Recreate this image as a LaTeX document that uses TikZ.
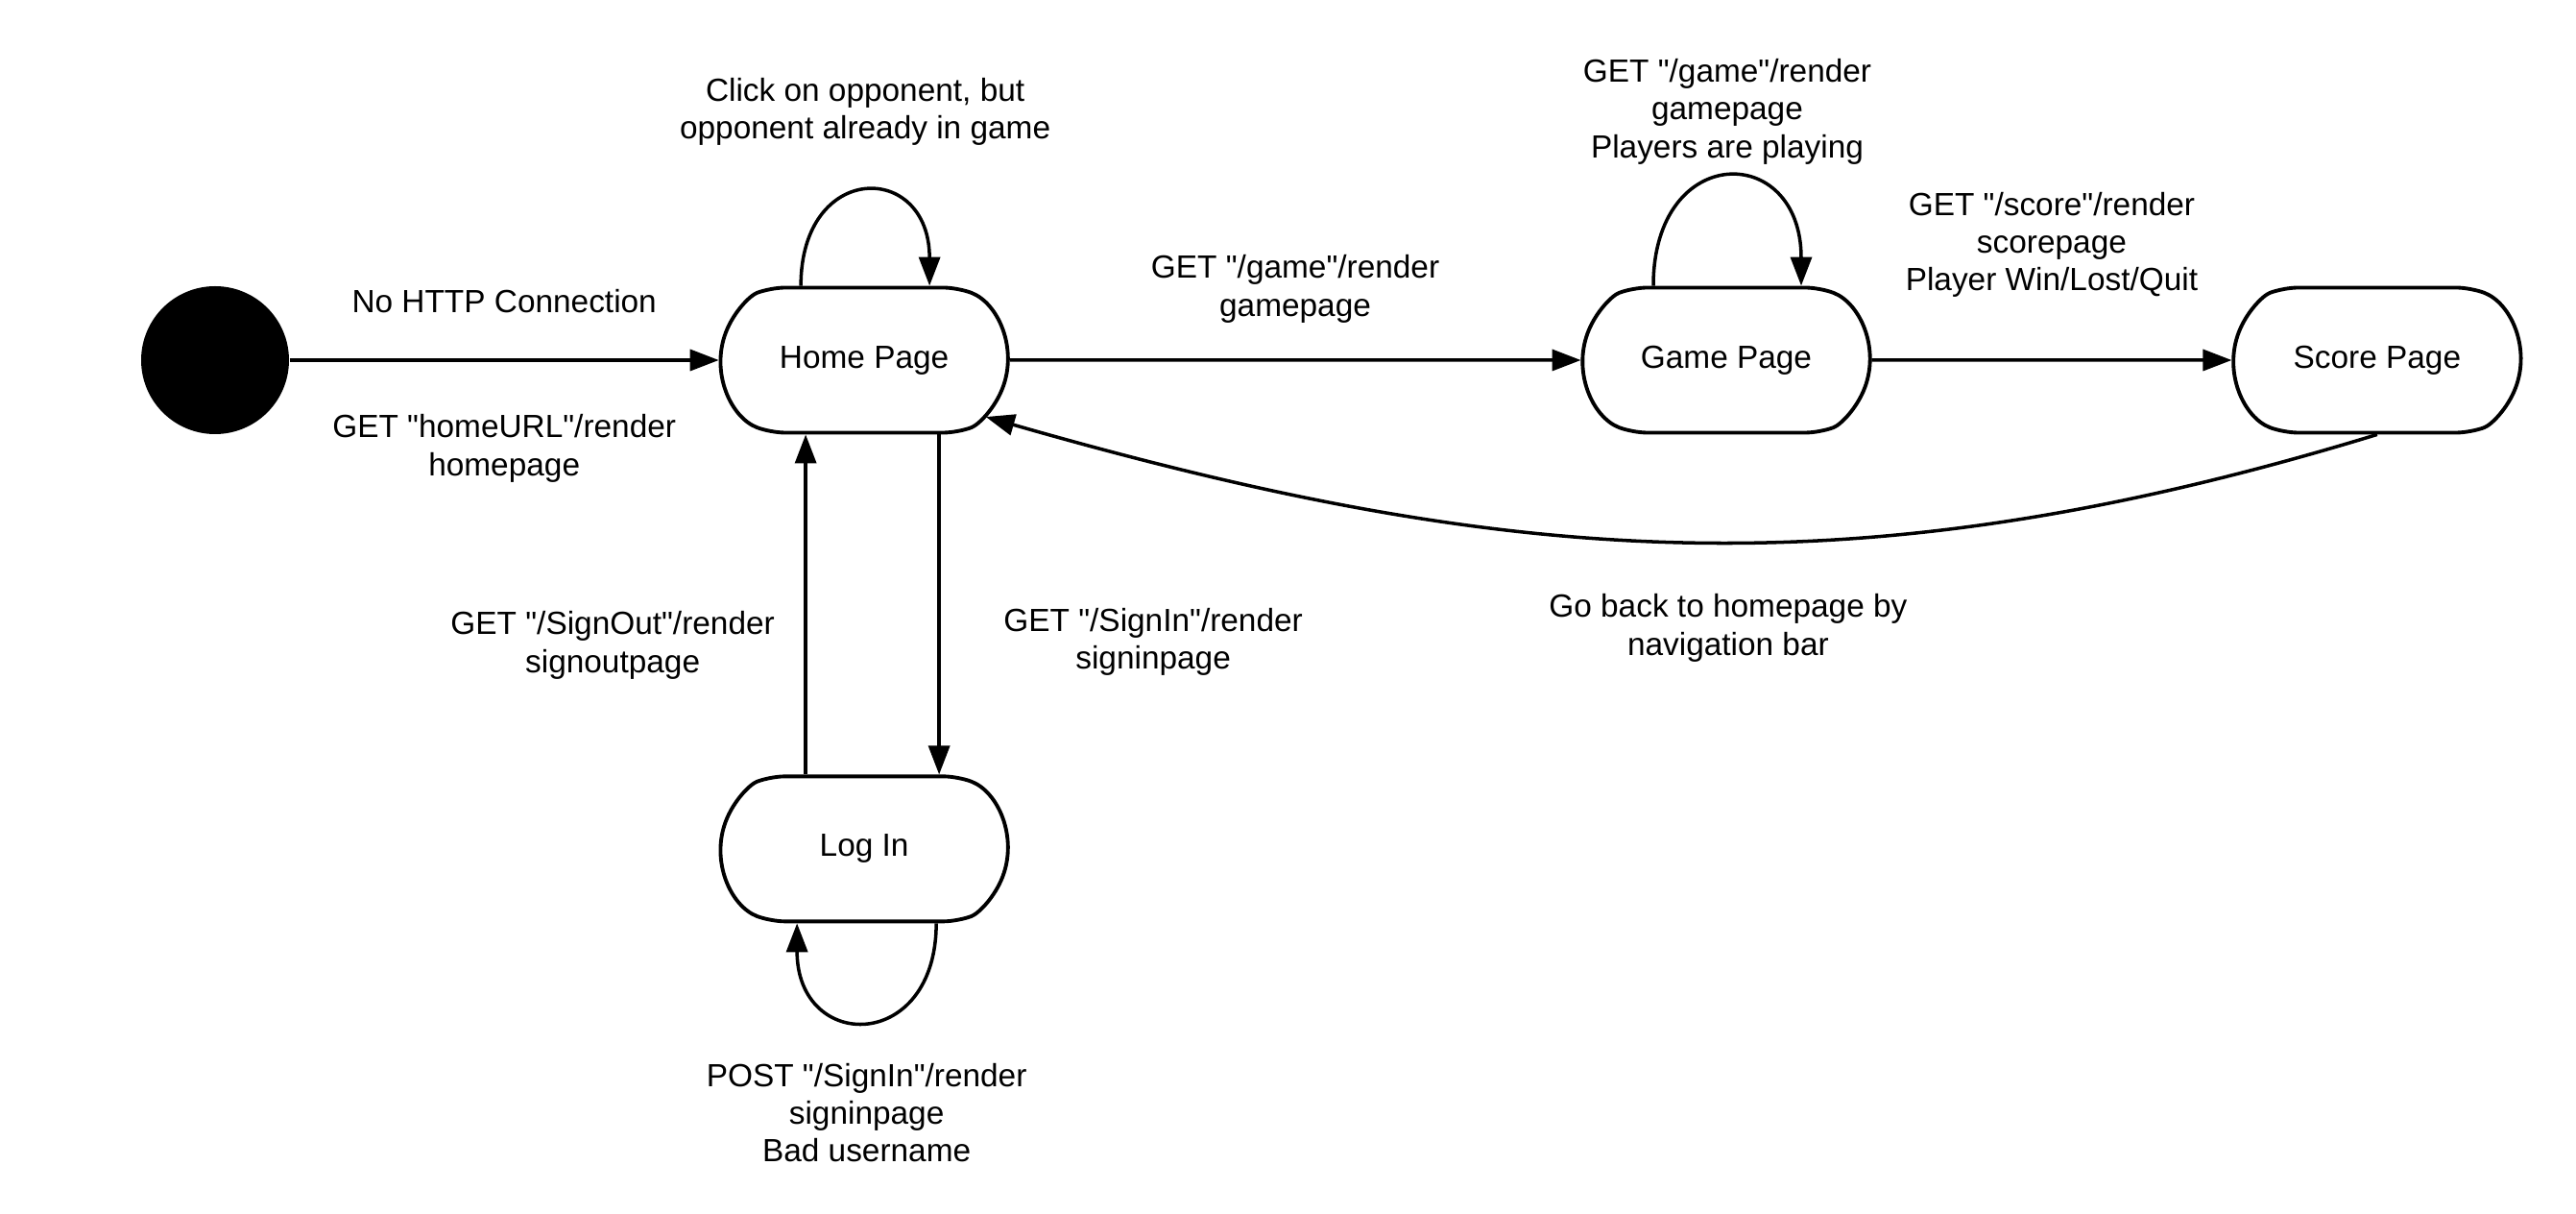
\documentclass[tikz,border=0pt]{standalone}
\usepackage{fontspec}
\setmainfont{Liberation Sans}[Ligatures=TeXOff]
\usetikzlibrary{arrows.meta}
\usetikzlibrary{positioning}
\usetikzlibrary{shapes.misc}

\tikzset{
  page/.style={rounded rectangle, rounded rectangle arc length=138, draw,
    line width=1.1pt, rounded corners=1.5mm, minimum width=2.99cm, minimum height=1.51cm, inner sep=0pt,
    font=\fontsize{9.5}{11.2}\selectfont},
  trans/.style={line width=1pt, -{Triangle[length=3mm,width=2.2mm]}},
  lbl/.style={align=center, font=\fontsize{9.5}{11.2}\selectfont, inner sep=0pt},
}

\begin{document}
\begin{tikzpicture}
    \useasboundingbox (0,0) rectangle (26.83,12.64);
    \node [circle, fill, minimum size=1.54cm, inner sep=0pt] (start) at (2.24,8.89) {};
    \node [page, right=4.47cm of start] (home) {Home Page};
    \node [page, right=5.95cm of home] (game) {Game Page};
    \node [page, right=3.75cm of game] (score) {Score Page};
    \node [page, below=3.54cm of home] (login) {Log In};

    \draw [trans] (start) -- node [lbl, yshift=6.1mm] {No HTTP Connection}
      node [lbl, yshift=-9.2mm] {GET "homeURL"/render\\homepage} (home);
    \draw [trans] ([xshift=-6.6mm]home.north) .. controls +(0,1.3) and +(0,1.3) .. ([xshift=6.8mm]home.north)
      node [lbl, pos=0.5, yshift=8.4mm] {Click on opponent, but\\opponent already in game};
    \draw [trans] (home) -- node [lbl, yshift=7.4mm] {GET "/game"/render\\gamepage} (game);
    \draw [trans] ([xshift=-7.6mm]game.north) .. controls +(0,1.5) and +(0,1.5) .. ([xshift=7.8mm]game.north)
      node [lbl, pos=0.5, yshift=6.9mm] {GET "/game"/render\\gamepage\\Players are playing};
    \draw [trans] (game) -- node [lbl, yshift=12mm] {GET "/score"/render\\scorepage\\Player Win/Lost/Quit} (score);
    \draw [trans] (score.south) to [out=197, in=-16]
      node [lbl, pos=0.465, yshift=-8.9mm] {Go back to homepage by\\navigation bar} (home.-25);

    % sign in / sign out
    \draw [trans] ([xshift=7.8mm]home.south) -- node [lbl, pos=0.61, xshift=22.3mm] {GET "/SignIn"/render\\signinpage} ([xshift=7.8mm]login.north);
    \draw [trans] ([xshift=-6.1mm]login.north) -- node [lbl, pos=0.38, xshift=-20.1mm] {GET "/SignOut"/render\\signoutpage} ([xshift=-6.1mm]home.south);
    \draw [trans] ([xshift=7.5mm]login.south) .. controls +(0,-1.35) and +(0,-1.35) .. ([xshift=-7mm]login.south)
      node [lbl, pos=0.5, yshift=-9.6mm] {POST "/SignIn"/render\\signinpage\\Bad username};
\end{tikzpicture}
\end{document}
